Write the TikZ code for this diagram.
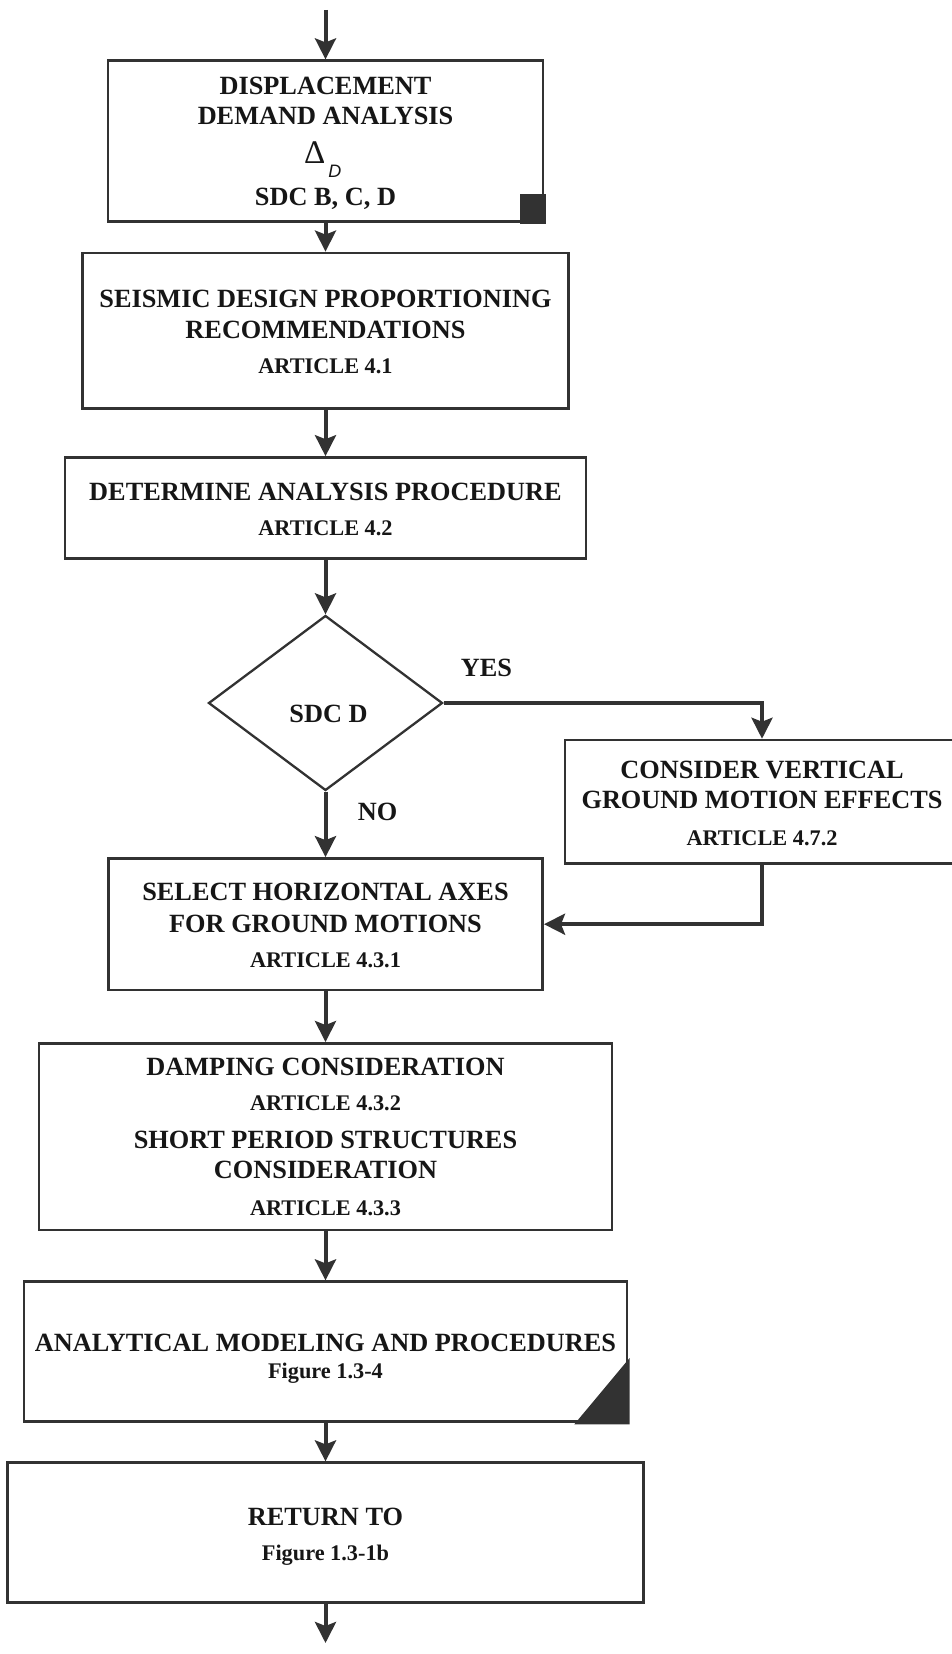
\documentclass[tikz,border=0pt]{standalone}
\usepackage{fontspec}
\setmainfont{Liberation Serif}
\newfontfamily\subsans{Liberation Sans}
\usetikzlibrary{arrows.meta,shapes.geometric}
\definecolor{linecol}{RGB}{50,50,50}
\definecolor{inkcol}{RGB}{22,22,22}
\newcommand{\flowbig}{\fontsize{26.3}{30}\selectfont\bfseries}
\newcommand{\flowsmall}{\fontsize{22.3}{26}\selectfont\bfseries}
\begin{document}
\begin{tikzpicture}[x=1pt,y=-1pt,
  flowbox/.style={rectangle, draw=linecol, line width=2.6pt, fill=white, inner sep=0pt},
  decision/.style={diamond, draw=linecol, line width=2.3pt, fill=white, inner sep=0pt},
  bigline/.style={font=\flowbig, text=inkcol, anchor=base, inner sep=0pt},
  smallline/.style={font=\flowsmall, text=inkcol, anchor=base, inner sep=0pt},
  flow/.style={draw=linecol, line width=4pt, -{Stealth[length=21pt,width=21pt,inset=4pt]}},
  cornermark/.style={fill=linecol}
]
\useasboundingbox (0,0) rectangle (951,1654);

% process boxes and the decision
\node[flowbox, minimum width=435pt,   minimum height=160.6pt] (b1)  at (325.5,141)    {};
\node[flowbox, minimum width=485.6pt, minimum height=155.8pt] (b2)  at (325.5,330.8)  {};
\node[flowbox, minimum width=521pt,   minimum height=100.8pt] (b3)  at (325.5,507.9)  {};
\node[decision, minimum width=234pt,  minimum height=175pt]   (sdc) at (325.5,703)    {};
\node[flowbox, minimum width=394pt,   minimum height=123.3pt] (b4)  at (762,801.7)    {};
\node[flowbox, minimum width=434.4pt, minimum height=131.5pt] (b5)  at (325.5,924.2)  {};
\node[flowbox, minimum width=573.3pt, minimum height=186.7pt] (b6)  at (325.5,1136.7) {};
\node[flowbox, minimum width=603pt,   minimum height=140pt]   (b7)  at (325.5,1351.7) {};
\node[flowbox, minimum width=636.4pt, minimum height=140pt]   (b8)  at (325.5,1532.7) {};

% corner marks
\fill[cornermark] ([xshift=1.3pt,yshift=-1.3pt]b1.south east) rectangle ([xshift=-24pt,yshift=29pt]b1.south east);
\fill[cornermark] ([xshift=1.3pt,yshift=-1.3pt]b7.south east) -- ([xshift=-54pt,yshift=-1.3pt]b7.south east)
  -- ([xshift=1.3pt,yshift=65pt]b7.south east) -- cycle;

% box texts
\node[bigline] (t1a) at (325.5,94.2)  {DISPLACEMENT};
\node[bigline] (t1b) at (325.5,124.5) {DEMAND ANALYSIS};
\node[anchor=base west, inner sep=0pt, text=inkcol] (t1c) at (304,163.5)
  {\fontsize{33}{33}\selectfont Δ\kern3pt\raisebox{-13.5pt}{\subsans\itshape\fontsize{18}{18}\selectfont D}};
\node[bigline] (t1d) at (325.5,205.7) {SDC B, C, D};

\node[bigline]   (t2a) at (325.5,307)   {SEISMIC DESIGN PROPORTIONING};
\node[bigline]   (t2b) at (325.5,338.7) {RECOMMENDATIONS};
\node[smallline] (t2c) at (325.5,373.8) {ARTICLE 4.1};

\node[bigline]   (t3a) at (325.5,500.4) {DETERMINE ANALYSIS PROCEDURE};
\node[smallline] (t3b) at (325.5,535.4) {ARTICLE 4.2};

\node[bigline] (t4) at (328.5,722.7) {SDC D};
\node[bigline] (yes) at (486.5,676.7) {YES};
\node[bigline] (no)  at (377.5,820.7) {NO};

\node[bigline]   (t5a) at (762,778.7) {CONSIDER VERTICAL};
\node[bigline]   (t5b) at (762,808.7) {GROUND MOTION EFFECTS};
\node[smallline] (t5c) at (762,845.4) {ARTICLE 4.7.2};

\node[bigline]   (t6a) at (325.5,900.4) {SELECT HORIZONTAL AXES};
\node[bigline]   (t6b) at (325.5,932)   {FOR GROUND MOTIONS};
\node[smallline] (t6c) at (325.5,967.1) {ARTICLE 4.3.1};

\node[bigline]   (t7a) at (325.5,1075.4) {DAMPING CONSIDERATION};
\node[smallline] (t7b) at (325.5,1110.4) {ARTICLE 4.3.2};
\node[bigline]   (t7c) at (325.5,1148.7) {SHORT PERIOD STRUCTURES};
\node[bigline]   (t7d) at (325.5,1178.7) {CONSIDERATION};
\node[smallline] (t7e) at (325.5,1215.4) {ARTICLE 4.3.3};

\node[bigline]   (t8a) at (325.5,1351.7) {ANALYTICAL MODELING AND PROCEDURES};
\node[smallline] (t8b) at (325.5,1378.8) {Figure 1.3-4};

\node[bigline]   (t9a) at (325.5,1525.4) {RETURN TO};
\node[smallline] (t9b) at (325.5,1560.4) {Figure 1.3-1b};

% connectors
\coordinate (entry) at (325.5,10);
\coordinate (exit)  at (325.5,1643);
\draw[flow] (entry) -- (b1.north);
\draw[flow] (b1.south) -- (b2.north);
\draw[flow] (b2.south) -- (b3.north);
\draw[flow] (b3.south) -- (sdc.north);
\draw[flow] (sdc.south) -- (b5.north);
\draw[flow] (sdc.east) -| (b4.north);
\draw[flow] (b4.south) |- (b5.east);
\draw[flow] (b5.south) -- (b6.north);
\draw[flow] (b6.south) -- (b7.north);
\draw[flow] (b7.south) -- (b8.north);
\draw[flow] (b8.south) -- (exit);
\end{tikzpicture}
\end{document}
